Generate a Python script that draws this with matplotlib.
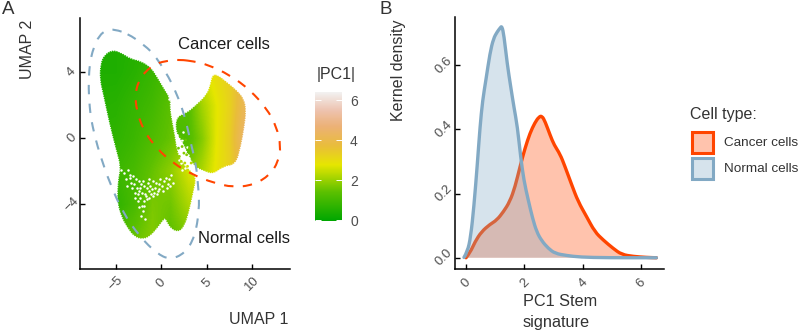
#!/usr/bin/env python3

import matplotlib
matplotlib.use("Agg")
import matplotlib.pyplot as plt
import matplotlib.transforms as mtrans
import numpy as np
from matplotlib.colors import LinearSegmentedColormap, Normalize
from matplotlib.patches import PathPatch, Rectangle
from matplotlib.path import Path

W, H = 800, 333

# panel A: UMAP outlines
BLUE_RING_X = [-5.11, -6.03, -6.84, -7.5, -7.87, -8.01, -7.98, -7.79, -7.32, -6.69, -5.66, -4.19, -2.35, -0.51,
               0.96, 2.61, 3.71, 4.19, 4.12, 3.82, 3.35, 2.79, 2.24, 1.51, 0.59, -0.88, -2.17, -3.64]
BLUE_RING_Y = [6.62, 6.58, 6.25, 5.47, 4.56, 3.55, 2.53, 1.32, 0.10, -1.11, -2.74, -4.56, -5.98, -6.99,
               -7.38, -6.99, -5.98, -4.36, -3.14, -1.52, -0.51, 0.91, 1.93, 2.94, 3.95, 5.17, 5.78, 6.34]
ORANGE_RING_X = [2.06, 0.77, -0.51, -1.8, -2.54, -2.87, -2.72, -1.99, -0.51, 1.32, 3.53, 5.74, 7.94, 10.15,
                 11.99, 12.9, 13.2, 12.72, 11.62, 9.78, 7.57, 5.0, 3.53]
ORANGE_RING_Y = [4.78, 4.72, 4.56, 4.05, 3.44, 2.63, 1.72, 0.51, -0.61, -1.52, -2.23, -2.70, -2.98, -2.84,
                 -2.23, -1.42, -0.51, 0.71, 1.82, 2.94, 3.85, 4.5, 4.68]

LEFT_BLOB_X = [-5.3, -4.2, -3.4, -2.2, -1.1, -0.4, 0.5, 1.05, 1.0, 1.2, 1.55, 1.75, 2.3, 3.6, 3.85,
               3.6, 3.05, 2.6, 2.0, 1.1, 0.5, 0.4, -0.4, -1.2, -2.0, -3.0, -3.8, -4.4, -4.85, -4.85, -4.75,
               -4.5, -5.0, -5.75, -6.45, -6.8, -6.75, -6.3]
LEFT_BLOB_Y = [5.4, 5.15, 4.85, 4.7, 4.3, 3.7, 2.85, 2.4, 1.82, 1.11, 0.1, -0.71, -1.52, -2.13, -2.53,
               -3.14, -4.56, -5.3, -5.7, -5.55, -5.0, -4.85, -5.45, -5.95, -6.15, -6.0, -5.4, -4.8, -3.95, -3.14, -2.43,
               -1.72, -0.71, 0.91, 2.74, 3.55, 4.5, 5.1]
RIGHT_BLOB_X = [6.15, 7.3, 8.4, 9.15, 9.4, 9.2, 8.8, 8.25, 6.84, 5.74, 4.63, 3.71, 2.98, 2.43, 1.6, 1.6,
                2.79, 3.71, 5.0, 5.4, 5.6]
RIGHT_BLOB_Y = [3.9, 3.4, 2.9, 2.4, 1.72, 0.71, -0.51, -1.6, -1.72, -2.2, -1.98, -1.75, -1.11, -0.3, 0.3, 1.3,
                1.55, 1.98, 2.65, 3.3, 3.85]

# |PC1| read at a few places inside each blob
LEFT_GRID_X = [-7, -5, -3, -1, 1, 3, 5]
LEFT_GRID_Y = [6, 4, 2, 0, -2, -4, -6]
LEFT_PC1 = [[0.45, 0.45, 0.5, 0.7, 0.9, 1.1, 1.1],
            [0.45, 0.45, 0.6, 0.85, 1.1, 1.3, 1.5],
            [0.55, 0.6, 0.8, 1.0, 1.4, 1.6, 1.7],
            [0.7, 0.7, 0.9, 1.2, 1.5, 1.9, 2.2],
            [0.8, 0.9, 1.1, 1.5, 1.9, 2.6, 2.8],
            [0.6, 0.7, 1.1, 1.7, 1.6, 2.2, 2.4],
            [1.1, 1.2, 1.5, 1.8, 1.4, 1.7, 1.8]]
RIGHT_GRID_X = [1.5, 3, 4.5, 6, 7.5, 9]
RIGHT_GRID_Y = [4, 2, 0, -2]
RIGHT_PC1 = [[1.6, 1.9, 2.6, 3.0, 3.3, 3.9],
             [1.3, 1.3, 2.1, 2.7, 3.2, 4.1],
             [1.1, 1.2, 1.8, 2.7, 3.3, 4.4],
             [1.6, 1.7, 2.2, 2.8, 3.2, 4.1]]

# white gaps between the clusters
GAP_X = [-4.4, -4.1, -3.9, -3.7, -3.5, -3.3, -3.1, -3.0, -2.8, -2.7, -2.5, -2.4, -2.2, -2.1, -1.9, -1.8, -1.6, -1.5,
         -1.3, -1.2, -1.0, -0.9, -0.7, -0.6, -0.4, -0.3, -0.1, 0.1, 0.3, 0.5, 0.7, 0.9, 1.1, 1.3,
         -3.8, -3.4, -3.2, -2.9, -2.6, -2.3, -2.0, -1.7, -1.4, -1.1, -0.8, -0.5, -0.2, 0.2, 0.6, 1.0,
         -2.9, -2.6, -2.3, -2.1, -1.9, -2.4, -2.0, -1.6, -1.3, -0.9, -2.2, -1.9, -1.8,
         1.7, 1.9, 2.1, 2.3, 2.5, 2.7, 2.2, 2.4, 2.8, 3.0, 2.6, 3.2, 3.4, 1.9, 2.1, 2.5, 2.9, 3.1, 1.8, 2.0, 2.3,
         1.3, 1.1, 0.9, 1.2, 0.8, 0.5, 0.9, 0.3]
GAP_Y = [-1.9, -2.1, -2.5, -1.9, -2.2, -2.7, -2.3, -2.8, -2.5, -3.0, -2.6, -3.2, -2.8, -3.3, -2.9, -3.4, -3.0, -2.7,
         -3.2, -2.9, -3.1, -2.6, -3.0, -2.7, -3.2, -2.8, -2.5, -2.9, -2.6, -2.4, -2.8, -2.5, -2.2, -2.7,
         -2.9, -2.4, -3.0, -3.3, -3.4, -3.0, -2.6, -3.5, -2.5, -3.4, -3.3, -3.4, -3.1, -3.2, -3.0, -2.9,
         -3.6, -3.8, -3.6, -4.1, -3.8, -4.2, -4.4, -3.7, -3.6, -3.5, -4.7, -4.1, -4.9,
         0.2, -0.4, -0.9, -0.1, -0.7, -1.2, -1.5, 0.4, -0.5, -1.6, -1.8, -1.4, -1.9, 0.0, -0.3, -1.0, -1.0, -1.2, -0.5, -1.3, -1.9,
         2.6, 2.9, 2.4, 2.2, 2.8, 3.0, 2.6, 3.3]

# thin cell strands that cross the gap next to the right blob
STRAND_X = [1.9, 2.1, 2.3, 2.5, 2.0, 2.2, 2.6, 2.4, 2.8, 2.9, 3.1, 2.7, 3.3]
STRAND_Y = [-0.6, 0.1, -0.5, -0.9, -1.1, -1.4, -1.5, 0.0, -1.0, -1.7, -0.6, -0.1, -1.5]
STRAND_PC1 = [1.6, 1.4, 1.7, 1.8, 1.9, 2.2, 2.3, 1.3, 1.8, 2.5, 1.6, 1.5, 2.3]

UMAP_XTICKS = [-5, 0, 5, 10]
UMAP_YTICKS = [-4, 0, 4]

COLORBAR_TICKS = [0, 2, 4, 6]
PC1_MIN, PC1_MAX = -0.05, 6.42
CMAP_VALUES = [-0.05, 1.4, 2.75, 3.7, 4.7, 5.5, 6.42]
CMAP_COLORS = ["#00A600", "#5CC000", "#E6E600", "#E9BD3A", "#ECB176", "#EDC3B0", "#F2F2F2"]

# panel B: density curves
NORMAL_X = [-0.07, 0.05, 0.16, 0.27, 0.39, 0.48, 0.57, 0.68, 0.82, 0.94, 1.07, 1.17, 1.23, 1.30, 1.41, 1.53, 1.64, 1.76,
            1.87, 1.98, 2.13, 2.28, 2.42, 2.59, 2.82, 3.05, 3.44, 3.90, 4.81, 6.52]
NORMAL_Y = [0.001, 0.019, 0.065, 0.159, 0.294, 0.408, 0.491, 0.553, 0.637, 0.683, 0.704, 0.716, 0.722, 0.692, 0.605, 0.533,
            0.470, 0.408, 0.315, 0.242, 0.180, 0.123, 0.081, 0.053, 0.029, 0.0135, 0.007, 0.002, 0.0, 0.0]
CANCER_X = [0.0, 0.14, 0.31, 0.53, 0.82, 1.05, 1.28, 1.50, 1.68, 1.85, 2.02, 2.19, 2.36, 2.50, 2.60, 2.71, 2.88, 3.02,
            3.22, 3.39, 3.62, 3.84, 4.13, 4.41, 4.70, 5.04, 5.33, 5.73, 6.18, 6.52]
CANCER_Y = [0.0, 0.016, 0.050, 0.081, 0.104, 0.117, 0.143, 0.175, 0.221, 0.284, 0.341, 0.388, 0.421, 0.439, 0.442, 0.424,
            0.382, 0.351, 0.323, 0.284, 0.227, 0.175, 0.128, 0.081, 0.055, 0.029, 0.010, 0.004, 0.001, 0.0]

DENSITY_XTICKS = [0, 2, 4, 6]
DENSITY_YTICKS = [0.0, 0.2, 0.4, 0.6]

LEGEND_LABELS = ["Cancer cells", "Normal cells"]

ORANGE = "#FF4500"
BLUE = "#82A9C4"
TICK_GREY = "#4D4D4D"
TITLE_GREY = "#333333"


def axes_px(fig, left, top, right, bottom):
    # reference pixels to figure fractions
    return fig.add_axes([left / W, 1 - bottom / H, (right - left) / W, (bottom - top) / H])


def fig_text(fig, x, y, s, **kw):
    fig.text(x / W, 1 - y / H, s, **kw)


def smooth_path(xs, ys, closed=False):
    # quadratic pieces through the midpoints, so the outline has no corners
    pts = np.column_stack([xs, ys])
    mids = (pts + np.roll(pts, -1, axis=0)) / 2
    if closed:
        verts = [mids[-1]]
        codes = [Path.MOVETO]
        for i in range(len(pts)):
            verts += [pts[i], mids[i]]
            codes += [Path.CURVE3, Path.CURVE3]
    else:
        verts = [pts[0]]
        codes = [Path.MOVETO]
        for i in range(1, len(pts) - 1):
            verts += [pts[i], mids[i]]
            codes += [Path.CURVE3, Path.CURVE3]
        verts.append(pts[-1])
        codes.append(Path.LINETO)
    return Path(np.array(verts), codes)


def style_axes(ax, fig, label_shift):
    ax.spines[["top", "right"]].set_visible(False)
    ax.spines[["left", "bottom"]].set_linewidth(1.1)
    ax.tick_params(direction="in", length=3.6, width=1.0, color="black", labelsize=9.5, labelcolor=TICK_GREY)
    for label in ax.get_xticklabels():
        label.set_rotation(45)
        label.set_ha("center")
        label.set_va("center")
    shift = mtrans.ScaledTranslation(0, -label_shift / 100, fig.dpi_scale_trans)
    for label in ax.get_yticklabels():
        label.set_rotation(45)
        label.set_ha("center")
        label.set_va("center")
        label.set_transform(label.get_transform() + shift)


def draw_blob(ax, xs, ys, grid_x, grid_y, values, cmap, norm):
    patch = PathPatch(smooth_path(xs, ys, closed=True), facecolor="none", edgecolor="white", lw=1.0,
                      linestyle=(0, (0.7, 1.0)), zorder=2.5)
    ax.add_patch(patch)
    dx = (grid_x[1] - grid_x[0]) / 2
    dy = (grid_y[0] - grid_y[1]) / 2
    extent = [grid_x[0] - dx, grid_x[-1] + dx, grid_y[-1] - dy, grid_y[0] + dy]
    im = ax.imshow(values, extent=extent, cmap=cmap, norm=norm, interpolation="bilinear",
                   aspect="auto", origin="upper", zorder=2)
    im.set_clip_path(patch)
    return im


def umap_panel(fig, cmap, norm):
    ax = axes_px(fig, 80, 18, 290, 269.3)
    im = draw_blob(ax, LEFT_BLOB_X, LEFT_BLOB_Y, LEFT_GRID_X, LEFT_GRID_Y, LEFT_PC1, cmap, norm)
    draw_blob(ax, RIGHT_BLOB_X, RIGHT_BLOB_Y, RIGHT_GRID_X, RIGHT_GRID_Y, RIGHT_PC1, cmap, norm)
    ax.scatter(GAP_X, GAP_Y, s=3.2, color="white", linewidths=0, zorder=3)
    ax.scatter(STRAND_X, STRAND_Y, s=4, c=STRAND_PC1, cmap=cmap, norm=norm, linewidths=0, zorder=3.2)

    ax.add_patch(PathPatch(smooth_path(BLUE_RING_X, BLUE_RING_Y, closed=True), fill=False, edgecolor=BLUE, lw=1.5,
                           linestyle=(0, (4.5, 4.5)), zorder=4))
    ax.add_patch(PathPatch(smooth_path(ORANGE_RING_X, ORANGE_RING_Y, closed=True), fill=False, edgecolor=ORANGE, lw=1.5,
                           linestyle=(0, (4.5, 4.5)), zorder=5))

    ax.set_xlim(-8.96, 14.2)
    ax.set_ylim(-7.96, 7.31)
    ax.set_xticks(UMAP_XTICKS)
    ax.set_yticks(UMAP_YTICKS)
    style_axes(ax, fig, 3.5)
    ax.tick_params(axis="x", pad=10)
    ax.tick_params(axis="y", pad=6)

    ax.text((224.5 - 161.3) / 9.07, (138.3 - 45) / 16.45, "Cancer cells", fontsize=12, color="#1A1A1A",
            ha="center", va="center", zorder=6)
    ax.text((244.5 - 161.3) / 9.07, (138.3 - 238) / 16.45, "Normal cells", fontsize=12, color="#1A1A1A",
            ha="center", va="center", zorder=6)
    return im


def colorbar_panel(fig, im):
    cax = axes_px(fig, 315, 91.7, 341.7, 221)
    cb = fig.colorbar(im, cax=cax)
    cb.outline.set_visible(False)
    cb.set_ticks(COLORBAR_TICKS)
    cax.tick_params(axis="y", direction="in", left=True, right=True, length=4, width=0.7, color="white",
                    labelsize=10, labelcolor=TICK_GREY, pad=6)
    fig_text(fig, 336, 75, "|PC1|", fontsize=11.5, color=TITLE_GREY, ha="center", va="center")


def density_curve(ax, xs, ys, color, zorder):
    line = smooth_path(xs, ys)
    fill = Path(np.vstack([line.vertices, [xs[-1], 0], [xs[0], 0], [xs[0], ys[0]]]),
                list(line.codes) + [Path.LINETO, Path.LINETO, Path.LINETO])
    ax.add_patch(PathPatch(fill, facecolor=color, alpha=0.32, edgecolor="none", zorder=zorder))
    ax.add_patch(PathPatch(line, fill=False, edgecolor=color, lw=2.4, capstyle="round", joinstyle="round", zorder=zorder + 0.5))


def density_panel(fig):
    ax = axes_px(fig, 455, 17, 664, 269.3)
    density_curve(ax, CANCER_X, CANCER_Y, ORANGE, 2)
    density_curve(ax, NORMAL_X, NORMAL_Y, BLUE, 3)

    ax.set_xlim(-0.377, 6.78)
    ax.set_ylim(-0.036, 0.75)
    ax.set_xticks(DENSITY_XTICKS)
    ax.set_yticks(DENSITY_YTICKS)
    ax.set_yticklabels([f"{v:.1f}" for v in DENSITY_YTICKS])
    style_axes(ax, fig, 7.5)
    ax.tick_params(axis="x", pad=10)
    ax.tick_params(axis="y", pad=8)


def legend_block(fig):
    fig_text(fig, 690, 114, "Cell type:", fontsize=11.5, color=TITLE_GREY, ha="left", va="center")
    rows = [(130, ORANGE), (156, BLUE)]
    for (top, color), label in zip(rows, LEGEND_LABELS):
        box = Rectangle((691.5 / W, 1 - (top + 22.5) / H), 21 / W, 21 / H, transform=fig.transFigure,
                        facecolor=matplotlib.colors.to_rgba(color, 0.32), edgecolor=color, linewidth=2.2)
        fig.add_artist(box)
        fig_text(fig, 724, top + 12.5, label, fontsize=9.7, color=TITLE_GREY, ha="left", va="center")


def main() -> None:
    plt.rcParams["font.family"] = ["Liberation Sans", "DejaVu Sans"]
    fig = plt.figure(figsize=(W / 100, H / 100), dpi=100)

    norm = Normalize(PC1_MIN, PC1_MAX)
    cmap = LinearSegmentedColormap.from_list("pc1", list(zip(norm(CMAP_VALUES).tolist(), CMAP_COLORS)))

    im = umap_panel(fig, cmap, norm)
    colorbar_panel(fig, im)
    density_panel(fig)
    legend_block(fig)

    fig_text(fig, 8, 10, "A", fontsize=13.5, color=TITLE_GREY, ha="center", va="center")
    fig_text(fig, 386, 10, "B", fontsize=13.5, color=TITLE_GREY, ha="center", va="center")
    fig_text(fig, 28, 49.5, "UMAP 2", fontsize=11.5, color=TITLE_GREY, rotation=90, ha="center", va="center")
    fig_text(fig, 259, 320, "UMAP 1", fontsize=11.5, color=TITLE_GREY, ha="center", va="center")
    fig_text(fig, 399, 70, "Kernel density", fontsize=11.5, color=TITLE_GREY, rotation=90, ha="center", va="center")
    fig_text(fig, 523, 302, "PC1 Stem", fontsize=11.7, color=TITLE_GREY, ha="left", va="center")
    fig_text(fig, 523, 322, "signature", fontsize=11.7, color=TITLE_GREY, ha="left", va="center")

    fig.savefig("out.png", dpi=100)


if __name__ == "__main__":
    main()
